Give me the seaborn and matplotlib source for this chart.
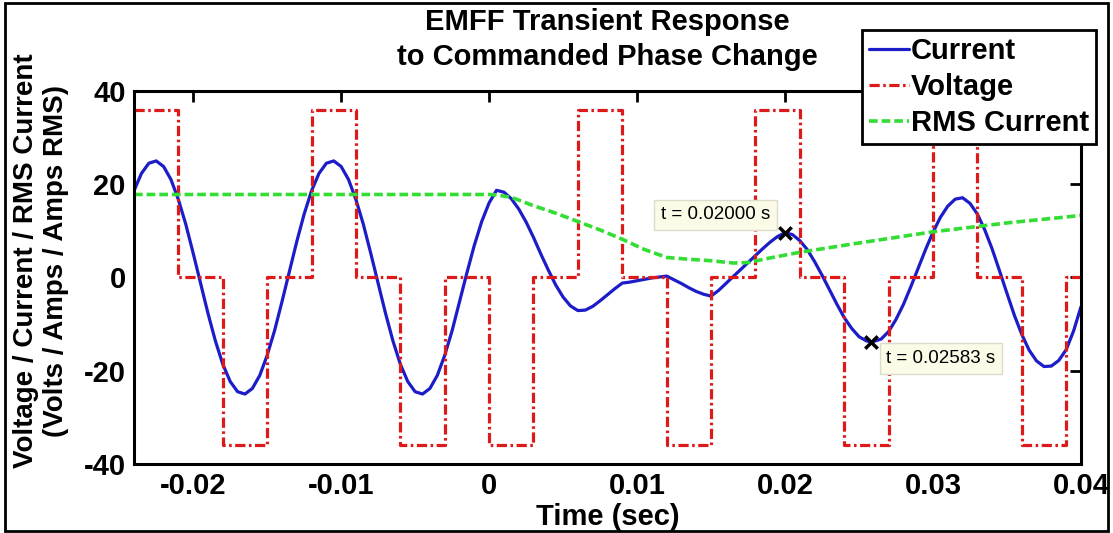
import pandas as pd
import matplotlib
matplotlib.use("Agg")
import matplotlib.pyplot as plt
from matplotlib.patches import Rectangle
import seaborn as sns

# ---------- data ----------
# coil current (A)
current_t = [-0.0240, -0.0235, -0.0230, -0.0225, -0.0220, -0.0215, -0.0210, -0.0205,
             -0.0200, -0.0195, -0.0190, -0.0185, -0.0180, -0.0175, -0.0170, -0.0165,
             -0.0160, -0.0155, -0.0150, -0.0145, -0.0140, -0.0135, -0.0130, -0.0125,
             -0.0120, -0.0115, -0.0110, -0.0105, -0.0100, -0.0095, -0.0090, -0.0085,
             -0.0080, -0.0075, -0.0070, -0.0065, -0.0060, -0.0055, -0.0050, -0.0045,
             -0.0040, -0.0035, -0.0030, -0.0025, -0.0020, -0.0015, -0.0010, -0.0005,
             0.0000, 0.0005, 0.0010, 0.0015, 0.0020, 0.0025, 0.0030, 0.0035,
             0.0040, 0.0045, 0.0050, 0.0055, 0.0060, 0.0065, 0.0070, 0.0075,
             0.0080, 0.0085, 0.0090, 0.0095, 0.0100, 0.0105, 0.0110, 0.0115,
             0.0120, 0.0125, 0.0130, 0.0135, 0.0140, 0.0145, 0.0150, 0.0155,
             0.0160, 0.0165, 0.0170, 0.0175, 0.0180, 0.0185, 0.0190, 0.0195,
             0.0200, 0.0205, 0.0210, 0.0215, 0.0220, 0.0225, 0.0230, 0.0235,
             0.0240, 0.0245, 0.0250, 0.0255, 0.0258, 0.0260, 0.0265, 0.0270,
             0.0275, 0.0280, 0.0285, 0.0290, 0.0295, 0.0300, 0.0305, 0.0310,
             0.0315, 0.0320, 0.0325, 0.0330, 0.0335, 0.0340, 0.0345, 0.0350,
             0.0355, 0.0360, 0.0365, 0.0370, 0.0375, 0.0380, 0.0385, 0.0390,
             0.0395, 0.0400]
current_v = [18.6, 22.3, 24.5, 25.0, 23.8, 21.0, 16.7, 11.4,
             5.2, -1.3, -7.7, -13.6, -18.6, -22.3, -24.5, -25.0,
             -23.8, -21.0, -16.7, -11.4, -5.2, 1.3, 7.7, 13.6,
             18.6, 22.3, 24.5, 25.0, 23.8, 21.0, 16.7, 11.4,
             5.2, -1.3, -7.7, -13.6, -18.6, -22.3, -24.5, -25.0,
             -23.8, -21.0, -16.7, -11.4, -5.2, 1.0, 6.9, 12.0,
             16.0, 18.7, 18.3, 16.9, 14.7, 11.9, 8.6, 5.0,
             1.6, -1.6, -4.2, -6.1, -7.1, -7.0, -6.2, -5.0,
             -3.7, -2.4, -1.2, -1.0, -0.7, -0.4, -0.1, 0.1,
             0.3, -0.5, -1.3, -2.2, -3.0, -3.6, -4.0, -2.8,
             -1.3, 0.2, 1.7, 3.2, 4.7, 6.2, 7.6, 8.8,
             9.6, 9.2, 7.9, 6.0, 3.4, 0.5, -2.6, -5.7,
             -8.6, -10.9, -12.7, -13.6, -13.8, -13.7, -13.2, -11.6,
             -9.0, -5.8, -2.0, 2.0, 6.0, 9.7, 12.9, 15.3,
             16.8, 17.1, 15.9, 13.6, 10.2, 6.1, 1.4, -3.4,
             -8.1, -12.2, -15.6, -17.9, -19.1, -19.0, -17.8, -15.5,
             -11.5, -6.3]

# drive voltage (V), level held from each time until the next
volt_t = [-0.024, -0.021, -0.018, -0.015, -0.012, -0.009, -0.006, -0.003,
          0.000, 0.003, 0.006, 0.009, 0.012, 0.015, 0.018, 0.021,
          0.024, 0.027, 0.030, 0.033, 0.036, 0.039, 0.040]
volt_v = [36, 0, -36, 0, 36, 0, -36, 0,
          -36, 0, 36, 0, -36, 0, 36, 0,
          -36, 0, 36, 0, -36, 0, 0]

# RMS current (A)
rms_t = [-0.024, -0.012, 0.0, 0.0005, 0.0015, 0.003, 0.0045, 0.006, 0.0075, 0.009,
         0.0105, 0.012, 0.0135, 0.015, 0.0165, 0.0175, 0.019, 0.021, 0.025, 0.030,
         0.035, 0.040]
rms_v = [17.8, 17.8, 17.8, 17.7, 17.2, 15.4, 13.8, 12.0, 10.2, 8.2,
         6.0, 4.3, 3.9, 3.6, 3.1, 3.2, 4.2, 5.4, 7.4, 9.8,
         11.7, 13.3]

# data tips
tip_t = [0.02000, 0.02583]
tip_v = [9.6, -13.8]
tip_labels = ["t = 0.02000 s", "t = 0.02583 s"]

x_ticks = [-0.02, -0.01, 0.0, 0.01, 0.02, 0.03, 0.04]
x_tick_labels = ["-0.02", "-0.01", "0", "0.01", "0.02", "0.03", "0.04"]
y_ticks = [-40, -20, 0, 20, 40]
y_tick_labels = ["-40", "-20", "0", "20", "40"]

current_df = pd.DataFrame({"t": current_t, "v": current_v})
volt_df = pd.DataFrame({"t": volt_t, "v": volt_v})
rms_df = pd.DataFrame({"t": rms_t, "v": rms_v})

# ---------- style ----------
sns.set_theme(style="white")
plt.rcParams["font.family"] = ["Liberation Sans", "DejaVu Sans"]
plt.rcParams["font.weight"] = "bold"
plt.rcParams["axes.labelweight"] = "bold"
plt.rcParams["axes.titleweight"] = "bold"
plt.rcParams["text.color"] = "black"
plt.rcParams["axes.labelcolor"] = "black"

fig = plt.figure(figsize=(11.13, 5.33), dpi=100)
ax = fig.add_axes([0.1204, 0.1295, 0.8508, 0.6998])

sns.lineplot(data=current_df, x="t", y="v", ax=ax, color="#1c1cc8", linewidth=2.3,
             estimator=None, errorbar=None, sort=False, label="Current")
sns.lineplot(data=volt_df, x="t", y="v", ax=ax, color="#dc1a1a", linewidth=2.3,
             estimator=None, errorbar=None, sort=False, drawstyle="steps-post",
             linestyle=(0, (3.2, 1.1, 0.8, 1.1)), label="Voltage")
sns.lineplot(data=rms_df, x="t", y="v", ax=ax, color="#33dd33", linewidth=2.6,
             estimator=None, errorbar=None, sort=False,
             linestyle=(0, (2.4, 1.1)), label="RMS Current")
sns.scatterplot(x=tip_t, y=tip_v, ax=ax, marker="x", color="black", s=80,
                linewidth=2.5, zorder=5, legend=False)

offsets = [(-50, 13), (50, -12)]
for tt, vv, txt, off in zip(tip_t, tip_v, tip_labels, offsets):
    ax.annotate(txt, xy=(tt, vv), xytext=off, textcoords="offset points",
                ha="center", va="center", fontsize=13.5, fontweight="medium",
                bbox=dict(boxstyle="square,pad=0.35", fc="#fbfbe8", ec="#dcdccc", lw=1),
                zorder=6)

ax.set_xlim(-0.024, 0.04)
ax.set_ylim(-40, 40)
ax.set_xticks(x_ticks, x_tick_labels)
ax.set_yticks(y_ticks, y_tick_labels)
ax.tick_params(direction="in", length=8, width=2, top=True, right=True,
               labelsize=21, pad=6, colors="black")
for sp in ax.spines.values():
    sp.set_color("black")
    sp.set_linewidth(2.2)

ax.set_title("EMFF Transient Response\nto Commanded Phase Change", fontsize=21,
             pad=19, linespacing=1.3)
ax.set_xlabel("Time (sec)", fontsize=21, labelpad=2)
ax.set_ylabel("Voltage / Current / RMS Current\n(Volts / Amps / Amps RMS)", fontsize=20)
ax.yaxis.set_label_coords(-0.069, 0.545)

leg = ax.legend(loc="upper left", bbox_to_anchor=(0.7745, 0.9437),
                bbox_transform=fig.transFigure, fontsize=21, handlelength=1.35,
                handletextpad=0.08, borderpad=0.25, labelspacing=0.27, borderaxespad=0,
                frameon=True, fancybox=False, edgecolor="black", framealpha=1)
leg.get_frame().set_linewidth(2)

# outer frame around the whole figure
fig.patches.append(Rectangle((0.0045, 0.0038), 0.991, 0.9906, transform=fig.transFigure,
                             fill=False, edgecolor="black", linewidth=2, figure=fig))

fig.savefig("out.png", dpi=100)
